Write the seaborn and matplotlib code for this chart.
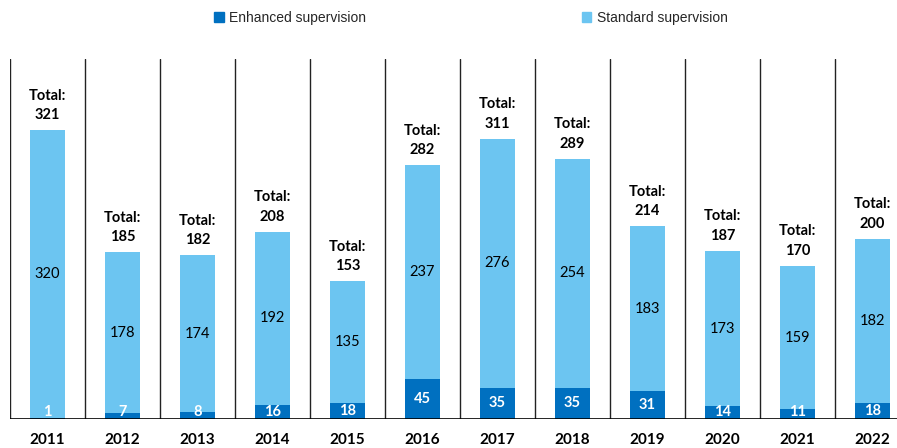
import numpy as np
import pandas as pd
import matplotlib
matplotlib.use("Agg")
import matplotlib.pyplot as plt
import seaborn as sns
from matplotlib.patches import Patch

# Dados
years = ["2011", "2012", "2013", "2014", "2015", "2016", "2017", "2018", "2019", "2020", "2021", "2022"]
enhanced = [1, 7, 8, 16, 18, 45, 35, 35, 31, 14, 11, 18]
standard = [320, 178, 174, 192, 135, 237, 276, 254, 183, 173, 159, 182]

DARK = "#0070C0"
LIGHT = "#6CC5F1"

sns.set_theme(style="white")
plt.rcParams["font.family"] = ["Lato", "DejaVu Sans"]

df = pd.DataFrame({"year": years, "enhanced": enhanced, "standard": standard})
df["total"] = df["enhanced"] + df["standard"]

fig = plt.figure(figsize=(8.97, 4.48), dpi=100)
ax = fig.add_axes([10 / 897, 29 / 448, 900 / 897, 360 / 448])

# barras empilhadas: total (claro) e depois enhanced (escuro) por cima
sns.barplot(data=df, x="year", y="total", color=LIGHT, width=0.47, ax=ax,
            saturation=1, linewidth=0)
sns.barplot(data=df, x="year", y="enhanced", color=DARK, width=0.47, ax=ax,
            saturation=1, linewidth=0)

ax.set_xlim(-0.5, 11.5)
ax.set_ylim(0, 400)
for s in ax.spines.values():
    s.set_visible(False)
ax.set_yticks([])
ax.set_xlabel("")
ax.set_ylabel("")
ax.tick_params(axis="x", length=0, pad=10)
ax.set_xticks(range(len(years)))
ax.set_xticklabels(years, fontsize=11, fontweight="bold", color="black")

# linhas separadoras
for i in range(len(years)):
    ax.axvline(i - 0.5, color="#222222", lw=1)
ax.axhline(0, color="black", lw=1.2)

# rótulos
for i, row in df.iterrows():
    ax.text(i, row["enhanced"] + row["standard"] / 2, str(row["standard"]),
            ha="center", va="center", fontsize=10.5, color="black")
    ax.text(i, max(row["enhanced"] / 2, 8), str(row["enhanced"]),
            ha="center", va="center", fontsize=10.5, color="white", fontweight="bold")
    ax.text(i, row["total"] + 9, f"Total:\n{row['total']}",
            ha="center", va="bottom", fontsize=10.5, fontweight="bold",
            color="black", linespacing=1.5)

handles = [Patch(color=DARK, label="Enhanced supervision"),
           Patch(color=LIGHT, label="Standard supervision")]
fig.legend(handles=handles, loc="center", bbox_to_anchor=(0.525, 0.96), ncol=2,
           frameon=False, handlelength=0.7, handleheight=0.7, handletextpad=0.4,
           columnspacing=15.5, prop={"family": "Liberation Sans", "size": 10})

fig.savefig("out.png", dpi=100)
